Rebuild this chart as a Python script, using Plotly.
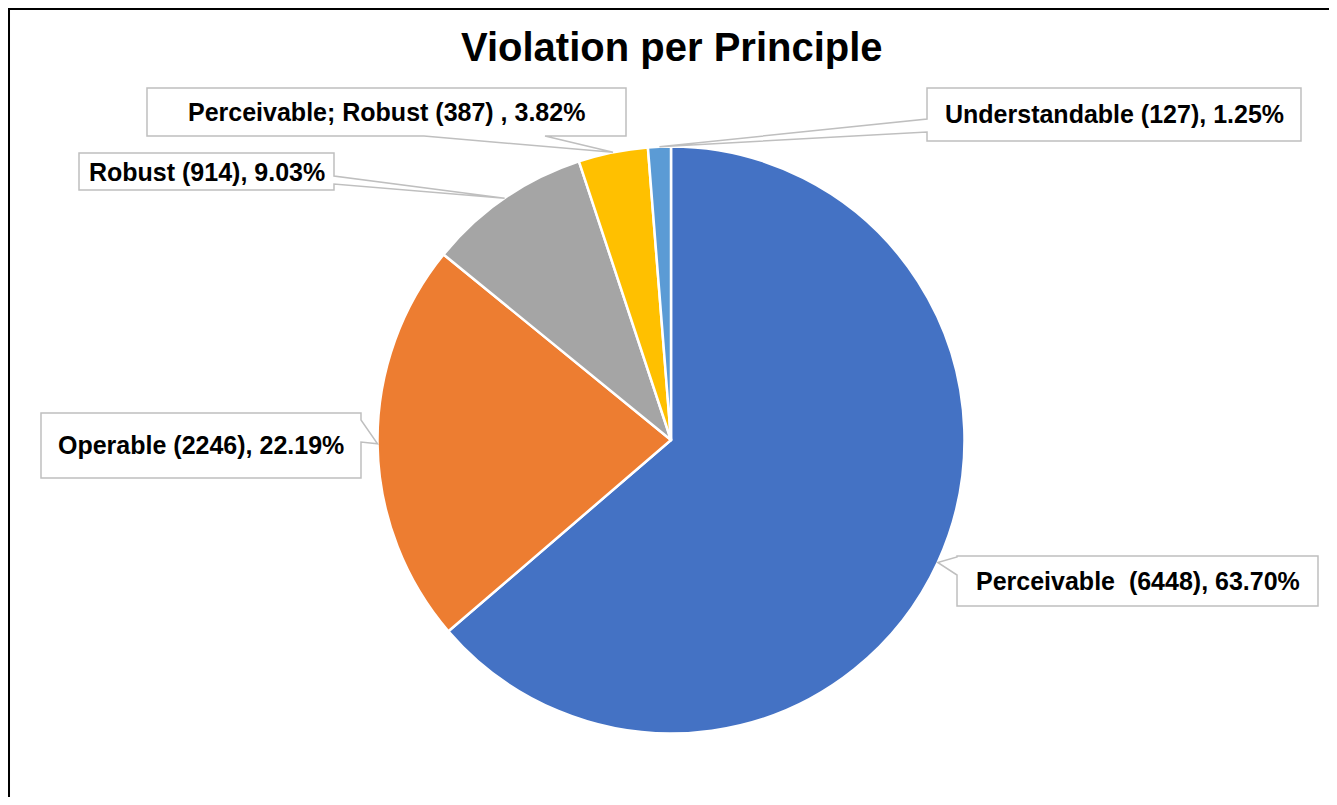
import math
import plotly.graph_objects as go

# données du graphique
principes = ["Perceivable", "Operable", "Robust", "Perceivable; Robust", "Understandable"]
violations = [6448, 2246, 914, 387, 127]
couleurs = ["#4472C4", "#ED7D31", "#A5A5A5", "#FFC000", "#5B9BD5"]
formats = ["{n}\u00a0 ({v}), {p:.2f}%", "{n} ({v}), {p:.2f}%", "{n} ({v}), {p:.2f}%",
           "{n} ({v}) , {p:.2f}%", "{n} ({v}), {p:.2f}%"]
titre = "Violation per Principle"

DEC = 8  # marge du body de la page html
W, H = 1337 - 2 * DEC, 805 - 2 * DEC  # pas de barres de défilement
cx, cy, r = 671, 440, 293.5  # centre et rayon du camembert en pixels (page)

def X(px):
    return (px - DEC) / W

def Y(py):
    return 1 - (py - DEC) / H

total = sum(violations)
pourcentages = [v / total * 100 for v in violations]

# boites des étiquettes: x0, y0, x1, y1, côté de la pointe, base1, base2
boites = [
    (957, 556, 1318, 606, "left", 557, 575),
    (41, 413, 361, 478, "right", 420, 442),
    (79, 153, 334, 190, "right", 176, 184),
    (147, 88, 626, 136, "bottom", 424, 545),
    (927, 88, 1301, 141, "left", 119, 132),
]

fig = go.Figure(go.Pie(
    labels=principes, values=violations, sort=False, direction="clockwise", rotation=0,
    marker=dict(colors=couleurs, line=dict(color="white", width=2.5)),
    textinfo="none", showlegend=False,
    domain=dict(x=[X(cx - r), X(cx + r)], y=[Y(cy + r), Y(cy - r)]),
))

formes = []
annotations = []
cumul = 0
for i, v in enumerate(violations):
    theta = 2 * math.pi * (cumul + v / 2) / total
    cumul += v
    tx, ty = cx + r * math.sin(theta), cy - r * math.cos(theta)
    x0, y0, x1, y1, cote, b1, b2 = boites[i]
    pts = [(x0, y0)]
    if cote == "top":
        pts += [(b1, y0), (tx, ty), (b2, y0)]
    pts.append((x1, y0))
    if cote == "right":
        pts += [(x1, b1), (tx, ty), (x1, b2)]
    pts.append((x1, y1))
    if cote == "bottom":
        pts += [(b2, y1), (tx, ty), (b1, y1)]
    pts.append((x0, y1))
    if cote == "left":
        pts += [(x0, b2), (tx, ty), (x0, b1)]
    chemin = "M " + " L ".join(f"{X(a):.5f} {Y(b):.5f}" for a, b in pts) + " Z"
    formes.append(dict(type="path", path=chemin, xref="paper", yref="paper",
                       fillcolor="white", line=dict(color="#BFBFBF", width=1.5)))
    texte = formats[i].format(n=principes[i], v=v, p=pourcentages[i])
    annotations.append(dict(text="<b>" + texte + "</b>", x=X((x0 + x1) / 2), y=Y((y0 + y1) / 2),
                            xref="paper", yref="paper", xanchor="center", yanchor="middle",
                            showarrow=False, font=dict(size=25, color="black")))

# cadre du graphique (ouvert à droite et en bas)
formes.append(dict(type="path", xref="paper", yref="paper",
                   path=f"M {X(9):.5f} -0.2 L {X(9):.5f} {Y(9):.5f} L 1.2 {Y(9):.5f}",
                   line=dict(color="black", width=2), layer="below"))

annotations.append(dict(text="<b>" + titre + "</b>", x=X(672), y=Y(47), xref="paper", yref="paper",
                        xanchor="center", yanchor="middle", showarrow=False,
                        font=dict(size=40, color="black")))

fig.update_layout(
    width=W, height=H, margin=dict(l=0, r=0, t=0, b=0),
    paper_bgcolor="white", plot_bgcolor="white",
    font=dict(family="Liberation Sans, Arial, sans-serif"),
    shapes=formes, annotations=annotations,
)
fig.write_html("out.html")
